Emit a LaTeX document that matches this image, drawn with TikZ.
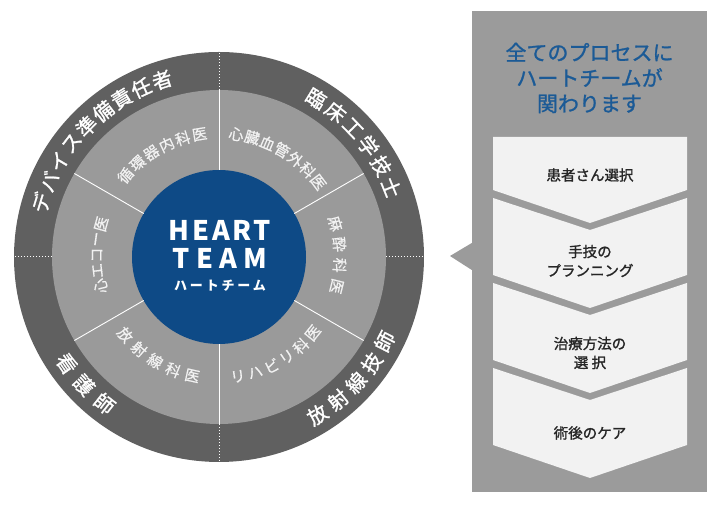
\documentclass[tikz,border=0pt]{standalone}
\usepackage{fontspec}
\setmainfont{Noto Sans CJK JP}
\newfontfamily\teamfont[LetterSpace=10]{Noto Sans CJK JP}
\usetikzlibrary{positioning}
\definecolor{ringdark}{HTML}{606060}
\definecolor{ringmid}{HTML}{9A9A9A}
\definecolor{teamblue}{HTML}{0E4A86}
\definecolor{panelgray}{HTML}{9B9B9B}
\definecolor{chevfill}{HTML}{F2F2F2}
\definecolor{headblue}{HTML}{1B5A96}

\begin{document}
\begin{tikzpicture}[
  x=1pt, y=1pt,
  sepline/.style={white, line width=0.9pt},
  sepdot/.style={white, line width=1pt, dotted},
  outerch/.style={font=\fontsize{20}{20}\selectfont\addfontfeature{FakeBold=1.2}, text=white, inner sep=0pt},
  innerch/.style={font=\fontsize{15}{15}\selectfont\addfontfeature{FakeBold=0.6}, text=white!95!black, inner sep=0pt},
  team/.style={font=\teamfont\fontsize{27}{27}\selectfont\bfseries, text=white, inner sep=0pt},
  panelbox/.style={fill=panelgray, minimum width=235pt, minimum height=481pt, inner sep=0pt},
  chev/.style={fill=chevfill},
  head/.style={font=\fontsize{21}{25.5}\selectfont\addfontfeature{FakeBold=1.2}, text=headblue, align=center},
  stage/.style={font=\fontsize{14.5}{19}\selectfont\addfontfeature{FakeBold=1.4}, text=black!85, align=center}
]
\useasboundingbox (0,0) rectangle (716,508);

% team wheel
\begin{scope}[shift={(219,251)}]
\fill[ringdark] (0,0) circle (205pt);
\fill[ringmid] (0,0) circle (167pt);
\fill[teamblue] (0,0) circle (87pt);
\foreach \a in {30,90,...,330}
  \draw[sepline] (\a:87) -- (\a:167);
\foreach \a in {0,90,180,270}
  \draw[sepdot] (\a:167) -- (\a:205);

\node[team] (heart) at (1,27) {HEART};
\node[team, font=\teamfont\fontsize{27}{27}\selectfont\bfseries\addfontfeature{LetterSpace=24}] (teamword) at (1,-1) {TEAM};
\node[team, font=\teamfont\fontsize{13}{13}\selectfont\bfseries\addfontfeature{LetterSpace=22}] (teamkana) at (1,-29) {ハートチーム};

% outer ring
\foreach \ch [count=\i from 0] in {デ,バ,イ,ス,準,備,責,任,者}
  \node[outerch, rotate={163-6.9*\i-90}] (dev\i) at ({163-6.9*\i}:186) {\ch};
\foreach \ch [count=\i from 0] in {臨,床,工,学,技,士}
  \node[outerch, rotate={58.5-7.3*\i-90}] (ce\i) at ({58.5-7.3*\i}:186) {\ch};
\foreach \ch [count=\i from 0] in {放,射,線,技,師}
  \node[outerch, rotate={-58+7.75*\i+90}] (rt\i) at ({-58+7.75*\i}:186) {\ch};
\foreach \ch [count=\i from 0] in {看,護,師}
  \node[outerch, rotate={215+8.5*\i+90}] (ns\i) at ({215+8.5*\i}:186) {\ch};

% middle ring
\foreach \ch [count=\i from 0] in {循,環,器,内,科,医}
  \node[innerch, rotate={139-8*\i-90}] (cardio\i) at ({139-8*\i}:124) {\ch};
\foreach \ch [count=\i from 0] in {心,臓,血,管,外,科,医}
  \node[innerch, rotate={82-7.5*\i-90}] (surg\i) at ({82-7.5*\i}:124) {\ch};
\foreach \ch [count=\i from 0] in {麻,酔,科,医}
  \node[innerch, rotate={16-10*\i-90}] (anes\i) at ({16-10*\i}:121) {\ch};
\foreach \ch [count=\i from 0] in {リ,ハ,ビ,リ,科,医}
  \node[innerch, rotate={-81+8.4*\i+90}] (rehab\i) at ({-81+8.4*\i}:121) {\ch};
\foreach \ch [count=\i from 0] in {放,射,線,科,医}
  \node[innerch, rotate={219.7+9.4*\i+90}] (radio\i) at ({219.7+9.4*\i}:122) {\ch};
\foreach \ch [count=\i from 0] in {心,エ,コ,ー,医}
  \node[innerch, rotate={193.8-7.35*\i-90}] (echo\i) at ({193.8-7.35*\i}:122) {\ch};
\end{scope}

% process panel
\node[panelbox] (panel) at (589.5,256.5) {};
\fill[panelgray] (450,252) -- (panel.west |- 0,265) -- (panel.west |- 0,238) -- cycle;
\node[head] (headline) at (589.5,430) {全てのプロセスに\\ハートチームが\\関わります};

\fill[chev] (493,371) -- (687,371) -- (687,318) -- (590,285) -- (493,318) -- cycle;
\foreach \k in {1,2,3}
  \fill[chev, yshift={-85*(\k-1)}] (493,310) -- (590,278) -- (687,310)
    -- (687,233) -- (590,200) -- (493,233) -- cycle;

\node[stage] (select) at (590,333) {患者さん選択};
\node[stage] (plan) at (590,247) {手技の\\プランニング};
\node[stage] (method) at (590,155) {治療方法の\\選 択};
\node[stage] (care) at (590,75) {術後のケア};
\end{tikzpicture}
\end{document}
